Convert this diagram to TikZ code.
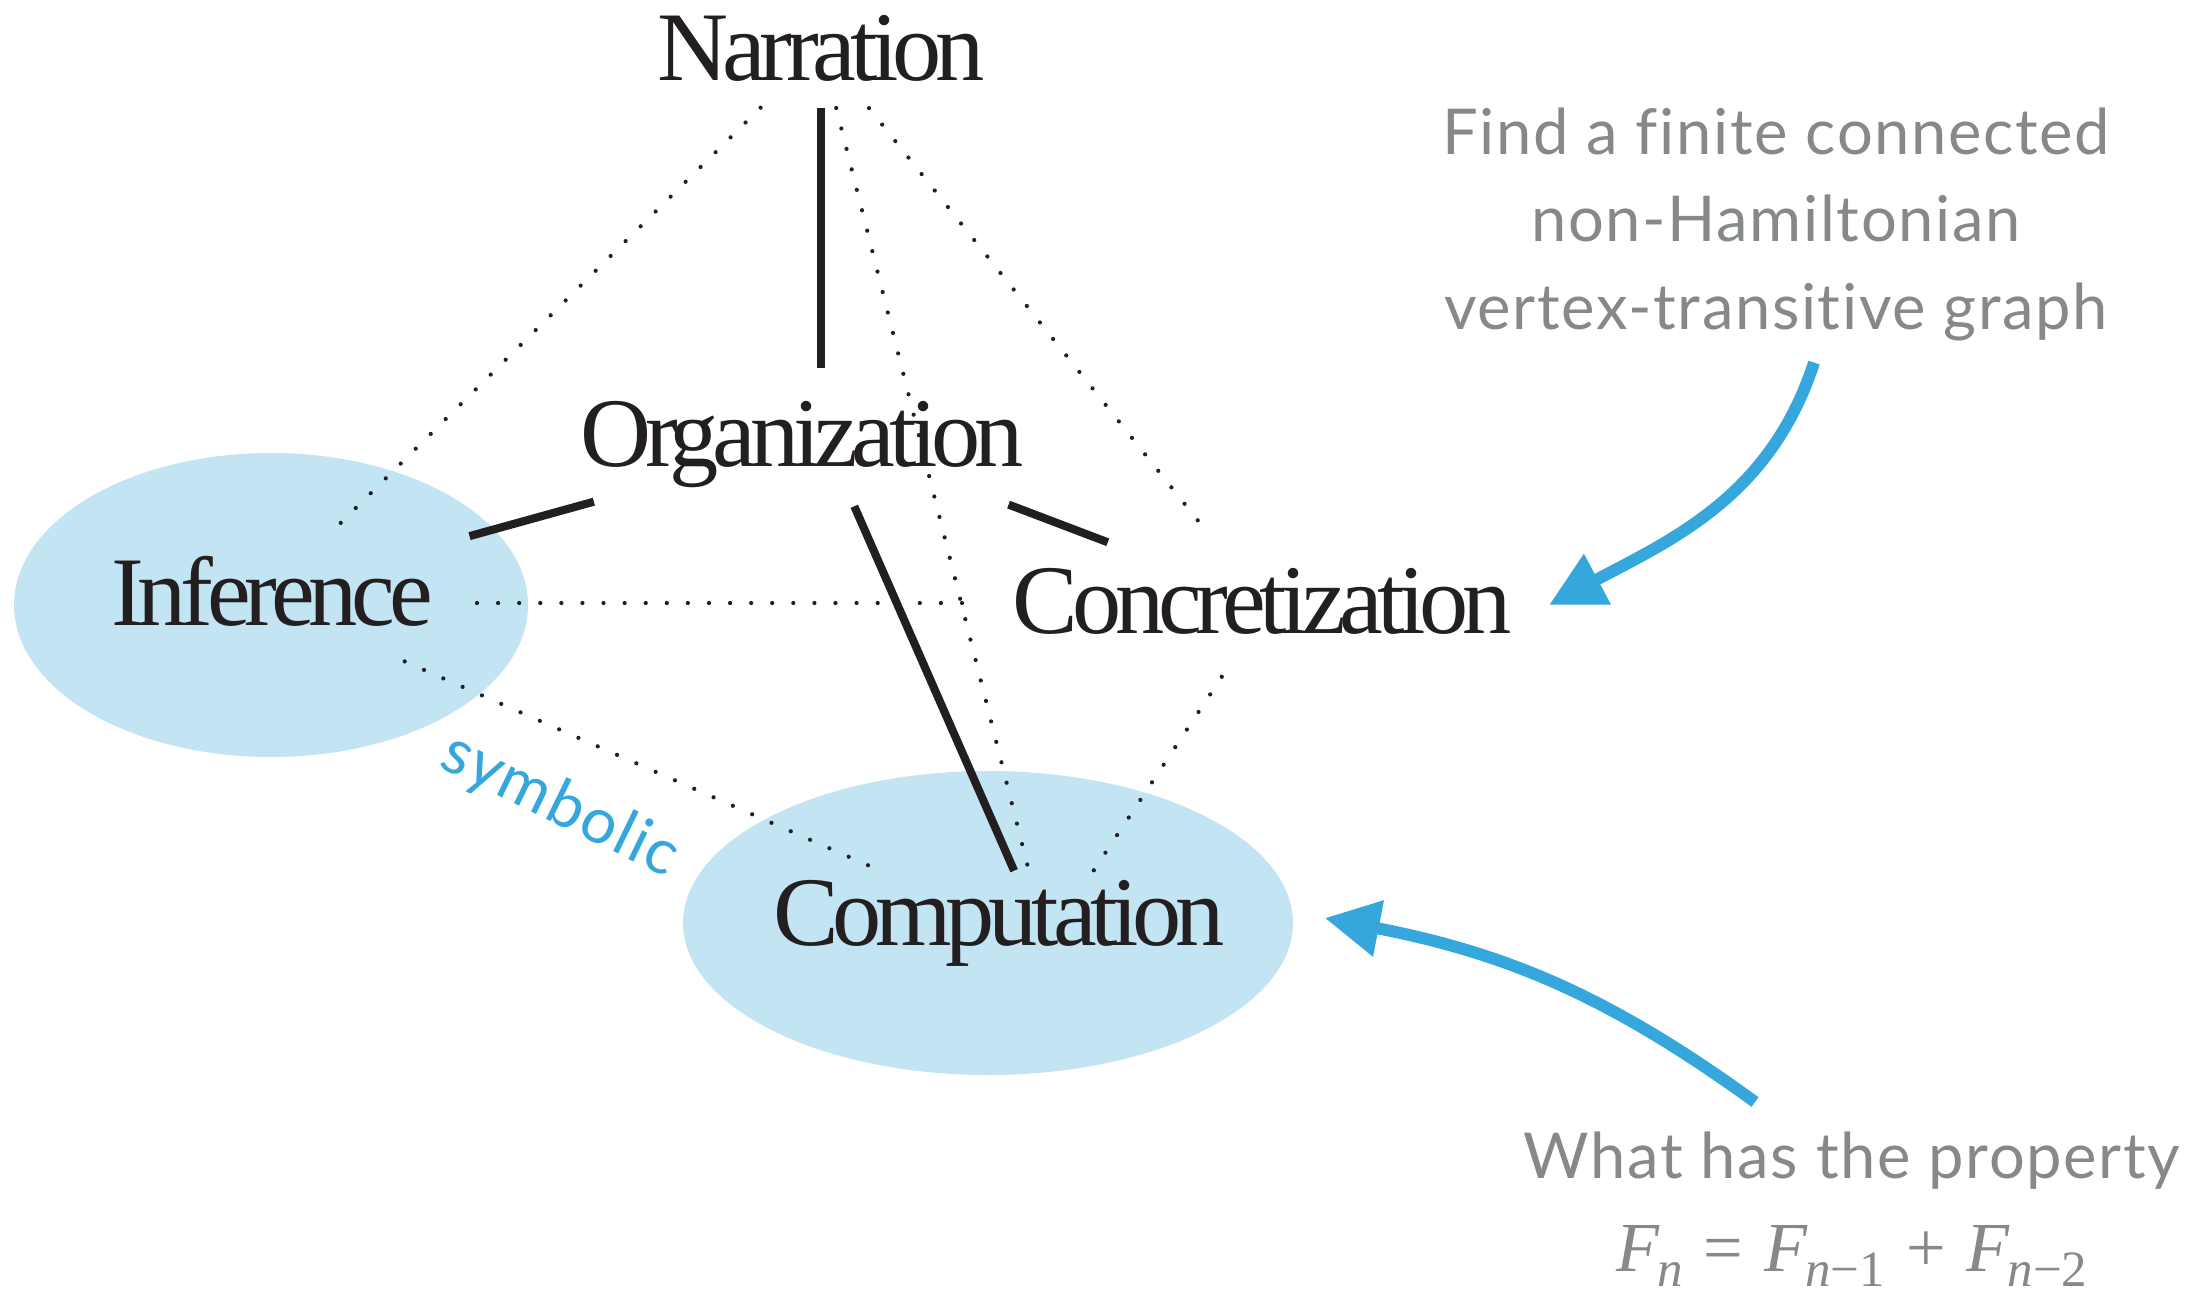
\documentclass[tikz,border=0pt]{standalone}
\usepackage{fontspec}
\setmainfont{Liberation Serif}
\newfontfamily\termfont{Liberation Serif}[LetterSpace=-6.3]
\newfontfamily\notefont{Lato}[LetterSpace=2.6, Ligatures=NoCommon]
\usepackage{tikz}
\usetikzlibrary{arrows.meta,shapes.geometric,calc}

\definecolor{ink}{RGB}{35,31,32}
\definecolor{notegray}{RGB}{134,137,137}
\definecolor{arrowblue}{RGB}{53,167,220}
\definecolor{blobblue}{RGB}{195,228,243}

% italic F with a large, lowered index
\newcommand{\fibF}[1]{\textit{F}\kern-0.04em\raisebox{-4.2pt}{\fontsize{14.5}{15}\selectfont #1}}

\tikzset{
  term/.style={font=\termfont\fontsize{28}{30}\selectfont, text=ink, anchor=base, inner sep=0pt},
  note/.style={font=\notefont\fontsize{18}{24.9}\selectfont, text=notegray, align=center, inner sep=0pt},
  blob/.style={ellipse, fill=blobblue, inner sep=0pt},
  bar/.style={draw=ink, line width=2.3pt},
  dots/.style={draw=ink, line width=1.2pt, dash pattern=on 0pt off 6pt, line cap=round},
  pointer/.style={draw=arrowblue, line width=3.4pt, -{Triangle[length=15.6pt,width=15.4pt]}}
}

\begin{document}
\begin{tikzpicture}
   \useasboundingbox (0,0) rectangle (22.11,-12.93);
   % shaded regions
   \node[blob, minimum width=5.14cm, minimum height=3.04cm] (infblob) at (2.71,-6.05) {};
   \node[blob, minimum width=6.10cm, minimum height=3.04cm] (compblob) at (9.88,-9.23) {};
   % the five terms
   \node[term] (narr) at (8.21,-0.80) {Narration};
   \node[term] (org)  at (8.02,-4.66) {Organization};
   \node[term] (inf)  at (2.72,-6.25) {Inference};
   \node[term] (conc) at (12.62,-6.33) {Concretization};
   \node[term] (comp) at (9.99,-9.45) {Computation};
   % solid links
   \draw[bar, shorten <=0.26cm, shorten >=0.32cm] (narr.south) -- (narr.south |- org.north);
   \draw[bar, shorten <=2.16cm, shorten >=2.05cm] (org.center) -- (inf.center);
   \draw[bar, shorten <=2.21cm, shorten >=1.65cm] ([yshift=1.8mm]org.center) -- (conc.center);
   \draw[bar, shorten <=0.68cm, shorten >=0.57cm] ([xshift=2.5mm]org.center) -- ([xshift=3.8mm]comp.center);
   % dotted links
   \draw[dots, shorten <=0.85cm, shorten >=0.78cm] (narr.center) -- (inf.center);
   \draw[dots, shorten <=0.62cm, shorten >=0.56cm] (narr.center) -- ([xshift=4.3mm]comp.center);
   \draw[dots, shorten <=0.77cm, shorten >=0.86cm] (narr.center) -- (conc.center);
   \draw[dots, shorten <=2.05cm, shorten >=2.82cm] ([yshift=2.2mm]inf.base) -- ([yshift=2.2mm]inf.base -| conc.center);
   \draw[dots, shorten <=1.45cm, shorten >=1.39cm] ([yshift=2.2mm]inf.base) -- (comp.center);
   \draw[dots, shorten <=0.91cm, shorten >=0.45cm] ([xshift=1mm]conc.center) -- ([xshift=6mm]comp.center);
   \node[note, text=arrowblue, rotate=-26, anchor=base] (symb) at (5.52,-8.22) {symbolic};
   % questions
   \node[note, anchor=north] (findnote) at (17.76,-1.07)
      {Find a finite connected\\non-Hamiltonian\\vertex-transitive graph};
   \node[note, anchor=north, font=\notefont\fontsize{18}{26.6}\selectfont] (whatnote) at (18.52,-11.31)
      {What has the property\\{\rmfamily\fontsize{20}{26.6}\selectfont \fibF{\textit{n}}\hspace{0.3em}=\hspace{0.3em}\fibF{\textit{n}\symbol{"2212}1}\hspace{0.3em}+\hspace{0.3em}\fibF{\textit{n}\symbol{"2212}2}}};
   \draw[pointer] ([shift={(0.38,-0.21)}]findnote.south) to[out=-108,in=28] ([shift={(0.37,-0.04)}]conc.east);
   \draw[pointer] ([shift={(-0.97,0.29)}]whatnote.north) to[out=144,in=-11] ([shift={(0.31,0.05)}]compblob.east);
\end{tikzpicture}
\end{document}
